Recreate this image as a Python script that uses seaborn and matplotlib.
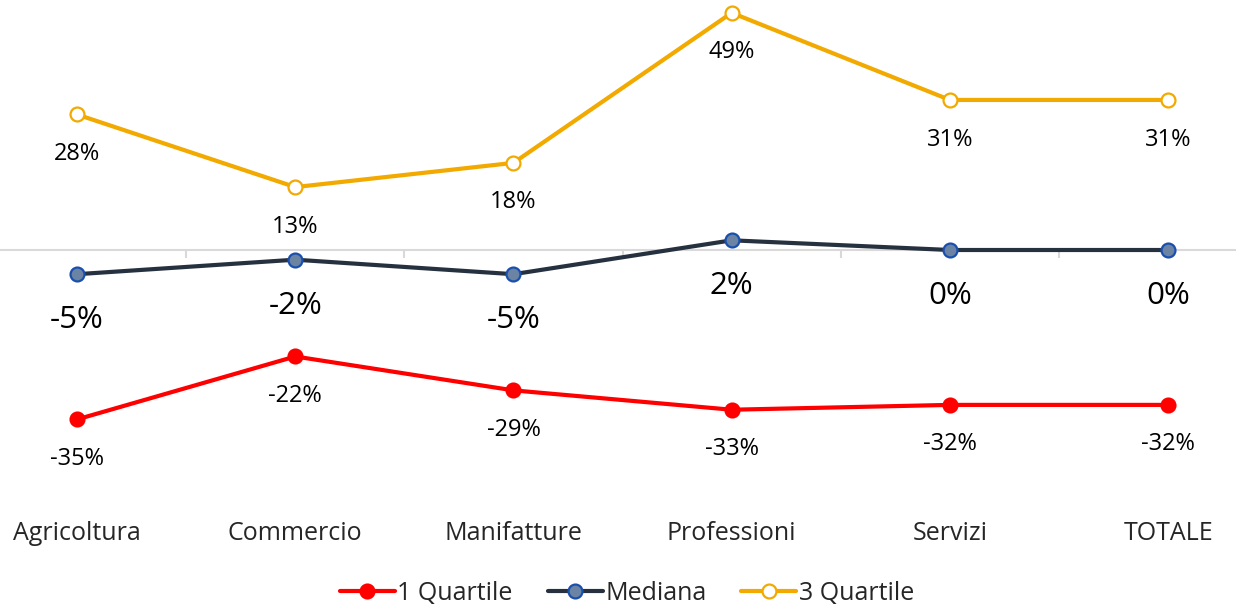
import pandas as pd
import matplotlib.pyplot as plt
import seaborn as sns
from matplotlib.lines import Line2D

# Data
categories = ['Agricoltura', 'Commercio', 'Manifatture', 'Professioni', 'Servizi', 'TOTALE']
q1_values = [-35, -22, -29, -33, -32, -32]
median_values = [-5, -2, -5, 2, 0, 0]
q3_values = [28, 13, 18, 49, 31, 31]

series_names = ['1 Quartile', 'Mediana', '3 Quartile']

sns.set_theme(style='white')
plt.rcParams['font.family'] = ['Open Sans', 'DejaVu Sans']

fig = plt.figure(figsize=(12.36, 6.05), dpi=100)
ax = fig.add_axes([0, 105 / 605, 1, 500 / 605])

# style per series: line colour, marker face, marker edge, label offset (pt), label size
styles = {
    '1 Quartile': dict(color='#ff0000', mfc='#ff0000', mec='#ff0000', off=28.5, fs=17),
    'Mediana': dict(color='#263140', mfc='#6b84a3', mec='#1a4fae', off=33, fs=22.5),
    '3 Quartile': dict(color='#f2a900', mfc='white', mec='#f2a900', off=28.5, fs=17),
}
values = {'1 Quartile': q1_values, 'Mediana': median_values, '3 Quartile': q3_values}
positions = list(range(len(categories)))

handles = []
for name in series_names:
    st = styles[name]
    df = pd.DataFrame({'pos': positions, 'val': values[name]})
    sns.lineplot(data=df, x='pos', y='val', ax=ax, color=st['color'], linewidth=3,
                 marker='o', markersize=10, markerfacecolor=st['mfc'],
                 markeredgecolor=st['mec'], markeredgewidth=1.6, zorder=3)
    for i, v in zip(positions, values[name]):
        ax.annotate(f'{v}%', (i, v), xytext=(0, -st['off']), textcoords='offset points',
                    ha='center', va='center', fontsize=st['fs'], color='black')
    handles.append(Line2D([], [], color=st['color'], linewidth=3, marker='o', markersize=10,
                          markerfacecolor=st['mfc'], markeredgecolor=st['mec'],
                          markeredgewidth=1.6, label=name))

# zero axis with ticks between categories, labels at the bottom
for s in ['top', 'left', 'right']:
    ax.spines[s].set_visible(False)
ax.spines['bottom'].set_position(('data', 0))
ax.spines['bottom'].set_color('#d9d9d9')
ax.spines['bottom'].set_linewidth(1.5)
ax.spines['bottom'].set_zorder(1)
ax.set_xticks(positions)
ax.set_xticklabels(categories)
ax.set_xticks([i + 0.5 for i in range(-1, len(categories))], minor=True)
ax.tick_params(axis='x', which='major', length=0, pad=195, labelsize=18, labelcolor='#262626')
ax.tick_params(axis='x', which='minor', length=6, width=1.5, color='#d9d9d9', direction='out', bottom=True)
ax.set_yticks([])
ax.set_xlabel('')
ax.set_ylabel('')

# limits last, so the tick settings do not widen them
ax.set_xlim(-0.353, 5.311)
ax.set_ylim(-51.65, 51.65)

fig.legend(handles=handles, loc='center', bbox_to_anchor=(0.5 + 9 / 1236, 1 - 593 / 605), ncol=3,
           frameon=False, fontsize=18, handlelength=2.2, handletextpad=0.1,
           columnspacing=1.4, labelcolor='#262626')

fig.savefig('out.png', dpi=100)
